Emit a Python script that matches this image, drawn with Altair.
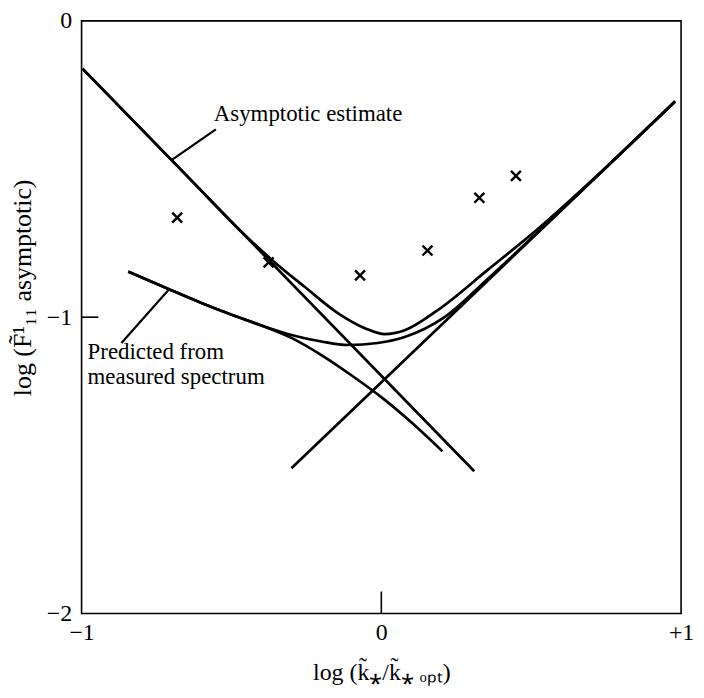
import altair as alt
import pandas as pd

# ---------------- data ----------------
asym_x = [-0.997, 0.310]
asym_y = [-0.161, -1.520]

right_x = [-0.300, 0.980]
right_y = [-1.510, -0.272]

upper_x = [-0.997, -0.642, -0.453, -0.367, -0.254, -0.144, -0.055, 0.012, 0.078, 0.187, 0.353, 0.519, 0.718, 0.980]
upper_y = [-0.161, -0.530, -0.725, -0.805, -0.899, -0.987, -1.037, -1.057, -1.044, -0.977, -0.842, -0.705, -0.524, -0.272]

pred_x = [-0.844, -0.708, -0.600, -0.499, -0.400, -0.300, -0.200, -0.100, 0.000, 0.100, 0.204]
pred_y = [-0.846, -0.906, -0.952, -0.992, -1.028, -1.070, -1.128, -1.196, -1.270, -1.355, -1.453]

mid_x = [-0.844, -0.708, -0.600, -0.499, -0.400, -0.300, -0.200, -0.111, -0.012, 0.078, 0.211, 0.353, 0.519, 0.980]
mid_y = [-0.846, -0.906, -0.952, -0.992, -1.028, -1.060, -1.082, -1.094, -1.087, -1.067, -1.000, -0.873, -0.716, -0.271]

cross_x = [-0.681, -0.376, -0.071, 0.154, 0.327, 0.449]
cross_y = [-0.664, -0.815, -0.859, -0.775, -0.597, -0.523]

lead1_x = [-0.700, -0.552]
lead1_y = [-0.470, -0.366]
lead2_x = [-0.708, -0.867]
lead2_y = [-0.906, -1.087]

label_text = ["Asymptotic estimate", "Predicted from", "measured spectrum"]
label_x = [-0.559, -0.980, -0.980]
label_y = [-0.315, -1.117, -1.201]

x_ticks = [-1, 0, 1]
y_ticks = [0, -1, -2]

# ---------------- tables ----------------
def long_table(series):
    rows = []
    for name, xs_, ys_ in series:
        for i, (a, b) in enumerate(zip(xs_, ys_)):
            rows.append({"series": name, "x": a, "y": b, "o": i})
    return pd.DataFrame(rows)

curves = long_table([("asym", asym_x, asym_y), ("right", right_x, right_y),
                     ("upper", upper_x, upper_y), ("pred", pred_x, pred_y),
                     ("mid", mid_x, mid_y)])
leaders = long_table([("l1", lead1_x, lead1_y), ("l2", lead2_x, lead2_y)])

crosses = pd.DataFrame({"x": cross_x, "y": cross_y})
labels = pd.DataFrame({"t": label_text, "x": label_x, "y": label_y})
ticks = pd.DataFrame({"x": [0.0, -1.0], "x2": [0.0, -0.944], "y": [-2.0, -1.0], "y2": [-1.926, -1.0]})

FONT = "Liberation Serif"

xs = alt.Scale(domain=[-1, 1], nice=False, zero=False)
ys = alt.Scale(domain=[-2, 0], nice=False, zero=False)

xaxis = alt.Axis(values=x_ticks, ticks=False, domain=False, grid=False, labelFlush=False,
                 labelExpr="datum.value > 0 ? '+1' : (datum.value < 0 ? '\u22121' : '0')",
                 labelFont=FONT, labelFontSize=24, labelColor="black", labelPadding=7,
                 title="log (k\u0303\u204e/k\u0303\u204e \u2092\u209a\u209c)", titleFont=FONT,
                 titleFontSize=24, titleFontWeight="normal", titleColor="black", titlePadding=16)
yaxis = alt.Axis(values=y_ticks, ticks=False, domain=False, grid=False, labelFlush=False,
                 labelExpr="datum.value == 0 ? '0' : (datum.value == -1 ? '\u22121' : '\u22122')",
                 labelFont=FONT, labelFontSize=24, labelColor="black", labelPadding=10,
                 title="log  (F\u0303\u00b9\u2081\u2081  asymptotic)", titleFont=FONT,
                 titleFontSize=26, titleFontWeight="normal", titleColor="black", titlePadding=11,
                 titleY=268)

base_lines = alt.Chart(curves).mark_line(color="black", strokeWidth=2.7, interpolate="monotone").encode(
    x=alt.X("x:Q", scale=xs, axis=xaxis),
    y=alt.Y("y:Q", scale=ys, axis=yaxis),
    detail="series:N",
    order="o:Q",
)

lead_lines = alt.Chart(leaders).mark_line(color="black", strokeWidth=2.2).encode(
    x=alt.X("x:Q", scale=xs), y=alt.Y("y:Q", scale=ys), detail="series:N", order="o:Q")

cross_marks = alt.Chart(crosses).mark_point(
    shape="M-1,-1L1,1M-1,1L1,-1", filled=False, color="black", strokeWidth=2.4, size=100, opacity=1
).encode(x=alt.X("x:Q", scale=xs), y=alt.Y("y:Q", scale=ys))

text_marks = alt.Chart(labels).mark_text(
    align="left", baseline="middle", font=FONT, fontSize=23, color="black"
).encode(x=alt.X("x:Q", scale=xs), y=alt.Y("y:Q", scale=ys), text="t:N")

tick_marks = alt.Chart(ticks).mark_rule(color="black", strokeWidth=1.6).encode(
    x=alt.X("x:Q", scale=xs), x2="x2:Q", y=alt.Y("y:Q", scale=ys), y2="y2:Q")

chart = alt.layer(base_lines, lead_lines, cross_marks, text_marks, tick_marks).properties(
    width=603, height=596,
    padding={"left": 74, "top": 11, "right": 15, "bottom": 73},
    autosize=alt.AutoSizeParams(type="none"),
    background="white",
).configure_view(stroke="black", strokeWidth=1.6)

chart.save("out.html", embed_options={"renderer": "svg", "actions": False})
